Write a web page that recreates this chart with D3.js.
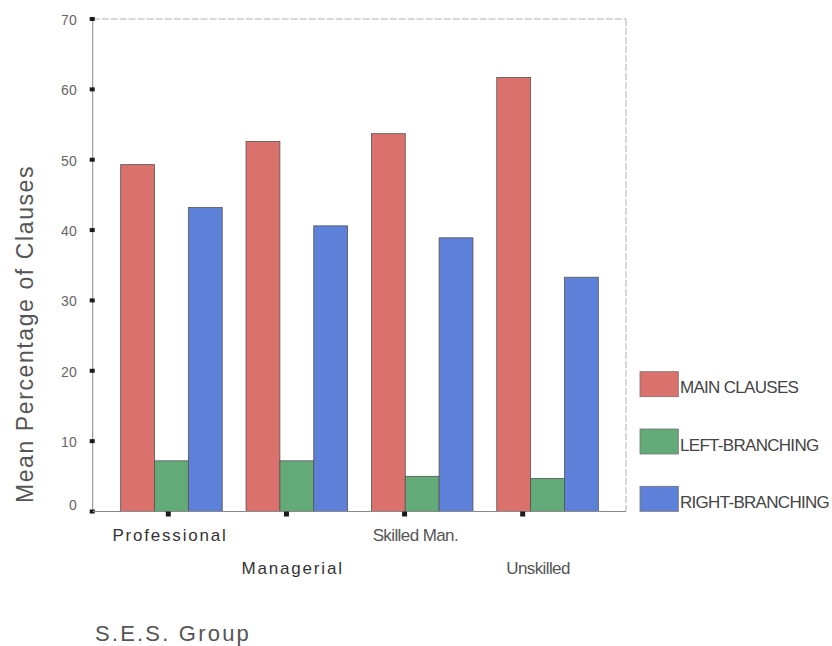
<!DOCTYPE html>
<html>
<head>
<meta charset="utf-8">
<script src="https://cdn.jsdelivr.net/npm/d3@7"></script>
<style>
  html, body { margin: 0; padding: 0; background: #fff; }
  svg { display: block; font-family: "Liberation Sans", Arial, sans-serif; }
</style>
</head>
<body>
<svg id="chart" width="832" height="646"></svg>
<script>
// Mean percentage of clause types by socio-economic group
const categories = ["Professional", "Managerial", "Skilled Man.", "Unskilled"];
const seriesNames = ["MAIN CLAUSES", "LEFT-BRANCHING", "RIGHT-BRANCHING"];
const mainClauses = [49.3, 52.6, 53.7, 61.7];
const leftBranching = [7.2, 7.2, 5.0, 4.7];
const rightBranching = [43.2, 40.6, 38.9, 33.3];
const yTickValues = [0, 10, 20, 30, 40, 50, 60, 70];
const yTitle = "Mean Percentage of Clauses";
const xTitle = "S.E.S. Group";

const seriesValues = [mainClauses, leftBranching, rightBranching];
const colors = ["#db716c", "#62aa78", "#5d80d8"];

const svg = d3.select("#chart");

// plot frame
const plot = { left: 92.7, right: 626, top: 19, bottom: 511.5 };

const y = d3.scaleLinear().domain([0, 70]).range([plot.bottom, plot.top]);

// groups of bars
const x0 = d3.scaleBand()
  .domain(categories)
  .range([95.6, 623.4])
  .paddingInner(0.19)
  .paddingOuter(0.2);
const x1 = d3.scaleBand()
  .domain(seriesNames)
  .range([0, x0.bandwidth()]);

// tick marks along the category axis
const xTickScale = d3.scalePoint().domain(categories).range([168.3, 522.7]);
// category label anchors
const xLabelScale = d3.scalePoint().domain(categories).range([170, 538]);

// dashed frame on top and right
svg.append("line")
  .attr("x1", plot.left).attr("x2", plot.right)
  .attr("y1", plot.top).attr("y2", plot.top)
  .attr("stroke", "#b0b0b0").attr("stroke-width", 1)
  .attr("stroke-dasharray", "7,2");
svg.append("line")
  .attr("x1", plot.right).attr("x2", plot.right)
  .attr("y1", plot.top).attr("y2", plot.bottom)
  .attr("stroke", "#b0b0b0").attr("stroke-width", 1)
  .attr("stroke-dasharray", "7,2");

// bars
const rows = categories.map((c, i) => ({
  category: c,
  values: seriesNames.map((s, k) => ({ series: s, k: k, value: seriesValues[k][i] }))
}));

const groups = svg.append("g").selectAll("g")
  .data(rows)
  .join("g")
  .attr("transform", d => `translate(${x0(d.category)},0)`);

groups.selectAll("rect")
  .data(d => d.values)
  .join("rect")
  .attr("x", d => x1(d.series))
  .attr("y", d => y(d.value))
  .attr("width", x1.bandwidth())
  .attr("height", d => y(0) - y(d.value))
  .attr("fill", d => colors[d.k])
  .attr("stroke", "#5a5050")
  .attr("stroke-width", 0.8);

// y axis
const yAxis = svg.append("g").attr("transform", `translate(${plot.left},0)`);
yAxis.append("line")
  .attr("x1", 0).attr("x2", 0)
  .attr("y1", y(70)).attr("y2", y(0))
  .attr("stroke", "#8a8a8a").attr("stroke-width", 1);
yAxis.selectAll("rect.tick")
  .data(yTickValues)
  .join("rect")
  .attr("class", "tick")
  .attr("x", -3).attr("width", 5)
  .attr("y", d => y(d) - 2).attr("height", 4)
  .attr("fill", "#1a1a1a");
yAxis.selectAll("text")
  .data(yTickValues)
  .join("text")
  .attr("x", -16)
  .attr("y", d => y(d) + (d === 0 ? -6 : 1))
  .attr("dy", "0.35em")
  .attr("text-anchor", "end")
  .attr("font-size", 14)
  .attr("fill", "#666")
  .text(d => d);

// x axis
const xAxis = svg.append("g");
xAxis.append("line")
  .attr("x1", plot.left).attr("x2", plot.right)
  .attr("y1", plot.bottom).attr("y2", plot.bottom)
  .attr("stroke", "#8a8a8a").attr("stroke-width", 1);
xAxis.selectAll("rect")
  .data(categories)
  .join("rect")
  .attr("x", d => xTickScale(d) - 2.5).attr("width", 5)
  .attr("y", plot.bottom).attr("height", 5)
  .attr("fill", "#1a1a1a");
xAxis.selectAll("text")
  .data(categories)
  .join("text")
  .attr("x", d => xLabelScale(d))
  .attr("y", (d, i) => i % 2 === 0 ? 541 : 574.3)
  .attr("text-anchor", "middle")
  .attr("font-size", 17)
  .attr("letter-spacing", (d, i) => i < 2 ? "1.8px" : "-0.6px")
  .attr("fill", (d, i) => i < 2 ? "#333" : "#555")
  .text(d => d);

// axis titles
svg.append("text")
  .attr("transform", "translate(33,334) rotate(-90)")
  .attr("text-anchor", "middle")
  .attr("font-size", 23)
  .attr("letter-spacing", "1.6px")
  .attr("fill", "#555")
  .text(yTitle);

svg.append("text")
  .attr("x", 95).attr("y", 641)
  .attr("font-size", 22)
  .attr("letter-spacing", "2.2px")
  .attr("fill", "#555")
  .text(xTitle);

// legend
const legendY = d3.scalePoint().domain(seriesNames).range([384.2, 498.8]);
const legend = svg.append("g").selectAll("g")
  .data(seriesNames)
  .join("g")
  .attr("transform", d => `translate(640,${legendY(d)})`);
legend.append("rect")
  .attr("x", 0).attr("y", -12.5)
  .attr("width", 38.3).attr("height", 25)
  .attr("fill", (d, i) => colors[i])
  .attr("stroke", "#7a7070").attr("stroke-width", 0.8);
legend.append("text")
  .attr("x", 40).attr("y", 9)
  .attr("font-size", 17)
  .attr("letter-spacing", "-0.7px")
  .attr("fill", "#444")
  .text(d => d);
</script>
</body>
</html>
